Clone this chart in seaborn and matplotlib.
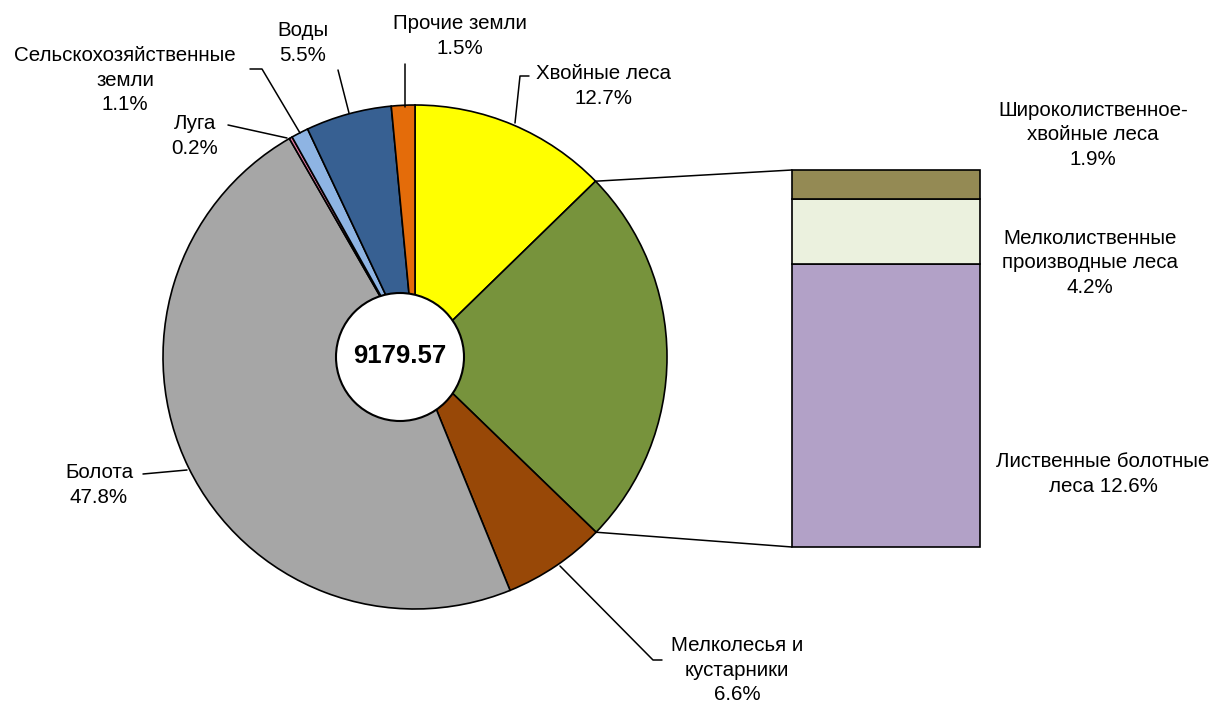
import numpy as np
import seaborn as sns
import matplotlib.pyplot as plt
from matplotlib.patches import Circle, ConnectionPatch

# pie slices, clockwise from 12 o'clock (share of total area, %)
pie_labels = ["Хвойные леса\n12.7%", "", "Мелколесья и\nкустарники\n6.6%",
              "Болота\n47.8%", "Луга\n0.2%", "Сельскохозяйственные\nземли\n1.1%",
              "Воды\n5.5%", "Прочие земли\n1.5%"]
pie_values = [12.7, None, 6.6, 47.8, 0.2, 1.1, 5.5, 1.5]
pie_colors = ["#ffff00", "#77933c", "#984807", "#a6a6a6", "#e377a0",
              "#8eb4e3", "#376092", "#e46c0a"]

# broken-out forest slice (bottom to top)
bar_labels = ["Лиственные болотные\nлеса 12.6%",
              "Мелколиственные\nпроизводные леса\n4.2%",
              "Широколиственное-\nхвойные леса\n1.9%"]
bar_values = [18.4, 4.2, 1.9]
bar_colors = ["#b2a1c7", "#ebf1de", "#948a54"]

total_label = "9179.57"

pie_values[1] = sum(bar_values)

W, H = 1216, 702
sns.set_theme(style="white")
plt.rcParams["font.family"] = ["Liberation Sans", "DejaVu Sans"]
plt.rcParams["text.color"] = "black"

fig = plt.figure(figsize=(W / 100, H / 100), dpi=100)
ax = fig.add_axes([0, 0, 1, 1])

cx, cy, r = 415, H - 357, 252
wedges, _ = ax.pie(pie_values, colors=pie_colors, startangle=90, counterclock=False,
                   center=(cx, cy), radius=r,
                   wedgeprops=dict(edgecolor="black", linewidth=1.2))
ax.set_xlim(0, W)
ax.set_ylim(0, H)
ax.set_aspect("auto")
ax.axis("off")

ax.add_patch(Circle((400, H - 357), 64, facecolor="white", edgecolor="black", lw=1.5, zorder=5))
ax.text(400, H - 356, total_label, ha="center", va="center", fontsize=18.5,
        fontweight="bold", zorder=6)

fs = 14.8
ls = 1.37
# label text centers and leader lines (pixel coords, y from top)
label_pos = {
    0: ((603, 86), [(515, 123), (520, 76), (529, 76)]),
    2: ((737, 670), [(560, 566), (653, 660), (662, 660)]),
    3: ((99, 485), [(187, 470), (143, 474)]),
    4: ((195, 136), [(287, 138), (228, 125)]),
    5: ((125, 80), [(300, 133), (262, 69), (250, 69)]),
    6: ((303, 43), [(349, 113), (338, 70)]),
    7: ((460, 36), [(405, 107), (405, 64)]),
}
for i, ((tx, ty), pts) in label_pos.items():
    ax.text(tx, H - ty, pie_labels[i], ha="center", va="center", fontsize=fs,
            linespacing=ls)
    xs = [p[0] for p in pts]
    ys = [H - p[1] for p in pts]
    ax.plot(xs, ys, color="black", lw=1.1)

# stacked bar for the forest slice
ax2 = fig.add_axes([792 / W, (H - 547) / H, 188 / W, 377 / H])
bottom = 0
for v, c in zip(bar_values, bar_colors):
    ax2.bar(0, v, bottom=bottom, width=1, color=c, edgecolor="black", linewidth=1.2,
            clip_on=False)
    bottom += v
ax2.set_xlim(-0.5, 0.5)
ax2.set_ylim(0, bottom)
ax2.axis("off")

bar_text_pos = [(1103, 474), (1090, 263), (1093, 135)]
for lab, (tx, ty) in zip(bar_labels, bar_text_pos):
    ax.text(tx, H - ty, lab, ha="center", va="center", fontsize=fs, linespacing=ls)

# connector lines from the green slice to the bar
g = wedges[1]
for ang, yb in [(g.theta2, bottom), (g.theta1, 0)]:
    a = np.deg2rad(ang)
    p = (cx + r * np.cos(a), cy + r * np.sin(a))
    con = ConnectionPatch(xyA=p, coordsA=ax.transData, xyB=(-0.5, yb),
                          coordsB=ax2.transData, color="black", lw=1.1)
    fig.add_artist(con)

fig.savefig("out.png", dpi=100)
